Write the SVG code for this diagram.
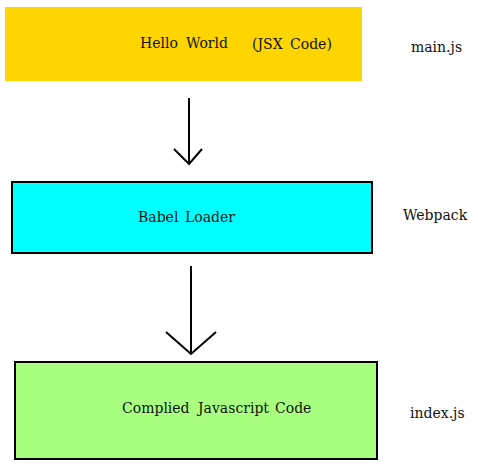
<svg xmlns="http://www.w3.org/2000/svg" width="478" height="472" viewBox="0 0 478 472">
<style>
.t{font-family:"DejaVu Serif","Liberation Serif",serif;font-size:14px;fill:#111}
.s{font-family:"DejaVu Serif","Liberation Serif",serif;font-size:14px;fill:#111}
.c{fill:none;stroke:#000;stroke-width:2}
</style>
<rect width="478" height="472" fill="#fff"/>
<g id="node-main">
<rect x="5" y="7" width="357" height="74" fill="#ffd500"/>
<text class="t" x="140" y="48">Hello</text>
<text class="t" x="186" y="48">World</text>
<text class="t" x="252" y="49">(JSX</text>
<text class="t" x="290" y="49">Code)</text>
</g>
<g id="label-main"><text class="s" x="411" y="52">main.js</text></g>
<g id="node-babel">
<rect x="12" y="182" width="360" height="71" fill="#00ffff" stroke="#000" stroke-width="2"/>
<text class="t" x="138" y="222">Babel</text>
<text class="t" x="185" y="222">Loader</text>
</g>
<g id="label-webpack"><text class="s" x="403" y="220">Webpack</text></g>
<g id="node-compiled">
<rect x="15" y="362" width="362" height="97" fill="#a8ff80" stroke="#000" stroke-width="2"/>
<text class="t" x="122" y="413">Complied</text>
<text class="t" x="198" y="413">Javascript</text>
<text class="t" x="275" y="413">Code</text>
</g>
<g id="label-index"><text class="s" x="410" y="418">index.js</text></g>
<g id="connectors">
<path class="c" d="M189 98V164M174 149L189 164L202 149"/>
<path class="c" d="M191 266V354M166 332L191 354L216 332"/>
</g>
</svg>
